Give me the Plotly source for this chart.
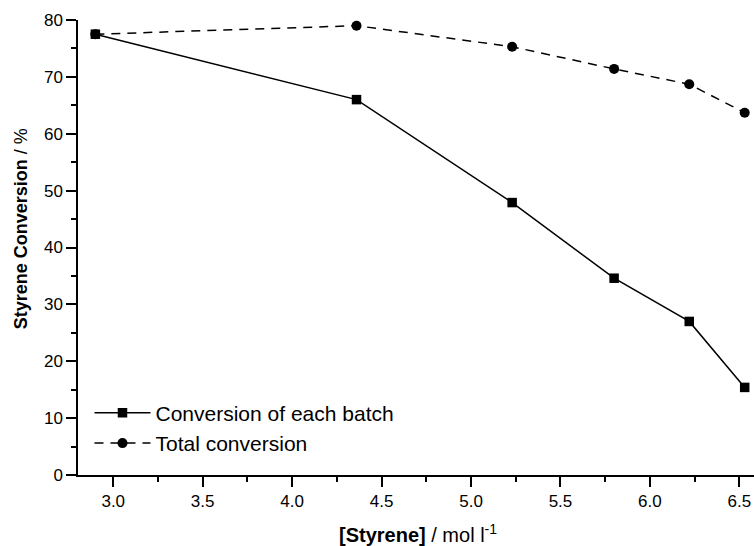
import plotly.graph_objects as go

styrene_conc = [2.90, 4.36, 5.23, 5.80, 6.22, 6.53]
conv_each_batch = [77.5, 66.0, 47.9, 34.6, 27.0, 15.4]
conv_total = [77.5, 79.0, 75.3, 71.4, 68.7, 63.7]

FONT = "Liberation Sans, Arial, sans-serif"

fig = go.Figure()
fig.add_trace(go.Scatter(
    x=styrene_conc, y=conv_each_batch, mode="lines+markers",
    name="Conversion of each batch",
    line=dict(color="black", width=1.5),
    marker=dict(symbol="square", size=9.5, color="black"),
))
fig.add_trace(go.Scatter(
    x=styrene_conc, y=conv_total, mode="lines+markers",
    name="Total conversion",
    line=dict(color="black", width=1.5, dash="9px,7px"),
    marker=dict(symbol="circle", size=10, color="black"),
))

axis_common = dict(
    showline=True, linecolor="black", linewidth=1.5,
    ticks="outside", ticklen=10, tickwidth=1.5, tickcolor="black",
    showgrid=False, zeroline=False,
    tickfont=dict(family=FONT, size=17, color="black"),
    minor=dict(ticks="outside", ticklen=5, tickwidth=1.5, tickcolor="black", showgrid=False),
)

fig.update_xaxes(range=[2.803, 6.582], tickmode="array",
                 tickvals=[3.0, 3.5, 4.0, 4.5, 5.0, 5.5, 6.0, 6.5],
                 ticktext=["3.0", "3.5", "4.0", "4.5", "5.0", "5.5", "6.0", "6.5"],
                 **axis_common)
fig.update_xaxes(minor=dict(dtick=0.25, tick0=3.0))
fig.update_yaxes(range=[0, 80], tickmode="array",
                 tickvals=[0, 10, 20, 30, 40, 50, 60, 70, 80],
                 **axis_common)
fig.update_yaxes(minor=dict(dtick=5, tick0=0))

fig.add_annotation(text="<b>Styrene Conversion</b> / %", textangle=-90,
                   xref="paper", yref="paper", x=-0.0843, y=0.540,
                   xanchor="center", yanchor="middle", showarrow=False,
                   font=dict(family=FONT, size=18, color="black"))
fig.add_annotation(text="<b>[Styrene]</b> / mol l<sup>-1</sup>",
                   xref="paper", yref="paper", x=0.503, y=-0.128,
                   xanchor="center", yanchor="middle", showarrow=False,
                   font=dict(family=FONT, size=20, color="black"))

fig.update_layout(
    width=754, height=546,
    margin=dict(l=78, r=0, t=20, b=71),
    plot_bgcolor="white", paper_bgcolor="white",
    showlegend=True,
    legend=dict(x=0.017, y=0.181, xanchor="left", yanchor="top",
                bgcolor="rgba(0,0,0,0)", borderwidth=0,
                font=dict(family=FONT, size=21, color="black"),
                itemwidth=56, tracegroupgap=0),
)

fig.write_html("out.html", config={"displayModeBar": False},
               post_script="document.body.style.margin='0';document.body.style.overflow='hidden';")
